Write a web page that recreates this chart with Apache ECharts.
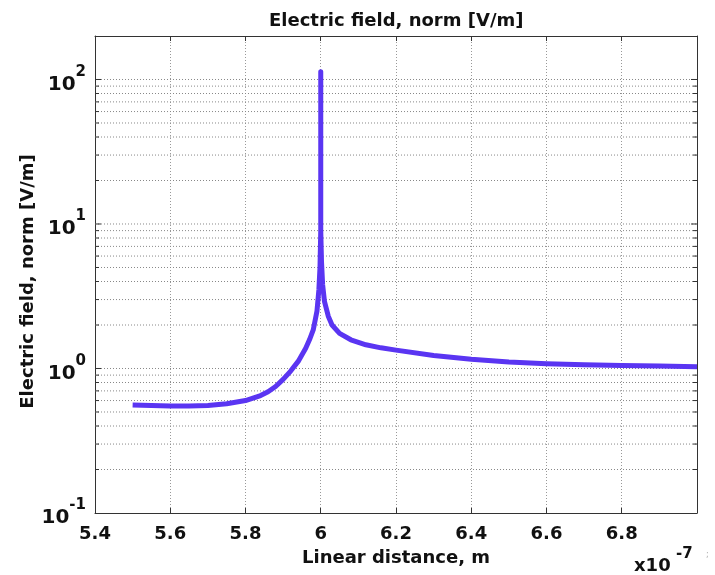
<!DOCTYPE html>
<html>
<head>
<meta charset="utf-8">
<script src="https://cdn.jsdelivr.net/npm/echarts@6/dist/echarts.min.js"></script>
<style>html,body{margin:0;padding:0;background:#fff;}#c{width:715px;height:575px;}</style>
</head>
<body>
<div id="c"></div>
<script>
// Linear distance in units of 1e-7 m
const distance = [5.50, 5.55, 5.60, 5.65, 5.70, 5.75, 5.80, 5.84, 5.86, 5.88, 5.90, 5.92, 5.94, 5.96, 5.97, 5.98, 5.99, 5.995, 5.998, 6.000, 6.000, 6.000, 6.002, 6.005, 6.01, 6.02, 6.03, 6.05, 6.08, 6.12, 6.16, 6.20, 6.30, 6.40, 6.50, 6.60, 6.70, 6.80, 6.90, 7.00];
const fieldNorm = [0.56, 0.555, 0.55, 0.55, 0.555, 0.57, 0.60, 0.65, 0.69, 0.75, 0.84, 0.96, 1.12, 1.38, 1.58, 1.85, 2.5, 3.5, 5.0, 9.0, 113, 9.0, 5.5, 3.8, 2.9, 2.3, 2.0, 1.75, 1.58, 1.46, 1.39, 1.34, 1.23, 1.16, 1.11, 1.08, 1.06, 1.05, 1.04, 1.03];
const xTicks = [5.4, 5.6, 5.8, 6.0, 6.2, 6.4, 6.6, 6.8, 7.0];
const yGridValues = [0.2,0.3,0.4,0.5,0.6,0.7,0.8,0.9,1,2,3,4,5,6,7,8,9,10,20,30,40,50,60,70,80,90,100];
const titleText = 'Electric field, norm [V/m]';
const xName = 'Linear distance, m';
const yName = 'Electric field, norm [V/m]';

const X_MIN = 5.4, X_MAX = 7.0;
const FONT = 'DejaVu Sans';

const chart = echarts.init(document.getElementById('c'));
chart.setOption({
  backgroundColor: '#fff',
  animation: false,
  title: {
    text: titleText,
    left: 264, top: 7,
    textStyle: {fontFamily: FONT, fontSize: 18, fontWeight: 'bold', color: '#111'}
  },
  grid: {left: 95, right: 18, top: 36, bottom: 62, containLabel: false},
  xAxis: [{
    type: 'value', min: X_MIN, max: X_MAX, interval: 0.2,
    name: xName, nameLocation: 'middle', nameGap: 36, nameMoveOverlap: false,
    nameTextStyle: {fontFamily: FONT, fontSize: 18, fontWeight: 'bold', color: '#111'},
    axisLine: {show: true, lineStyle: {color: '#333', width: 1}},
    axisTick: {show: true, inside: true, length: 5, lineStyle: {color: '#333'}},
    axisLabel: {
      margin: 12, fontFamily: FONT, fontSize: 18, fontWeight: 'bold', color: '#111',
      formatter: v => (Math.abs(v - X_MAX) < 1e-6 ? '' : String(Number(v.toFixed(1))))
    },
    splitLine: {show: true, lineStyle: {color: '#999', width: 1, type: [1, 2]}}
  }, {
    type: 'value', min: X_MIN, max: X_MAX, interval: 0.2, position: 'top',
    axisLine: {show: true, lineStyle: {color: '#333', width: 1}},
    axisTick: {show: true, inside: true, length: 5, lineStyle: {color: '#333'}},
    axisLabel: {show: false}, splitLine: {show: false}
  }],
  yAxis: [{
    type: 'log', logBase: 10, min: 0.1, max: 200,
    name: yName, nameLocation: 'middle', nameGap: 58, nameRotate: 90, nameMoveOverlap: false,
    nameTextStyle: {fontFamily: FONT, fontSize: 18, fontWeight: 'bold', color: '#111', padding: [0, 14, 0, 0]},
    axisLine: {show: true, lineStyle: {color: '#333', width: 1}},
    axisTick: {show: false},
    splitLine: {show: false},
    axisLabel: {
      margin: 9, color: '#111',
      formatter: v => {
        const l = Math.log10(v), e = Math.round(l);
        if (Math.abs(l - e) > 1e-6) return '';
        return '{b|10}{s|' + e + '}';
      },
      rich: {
        b: {fontFamily: FONT, fontSize: 20, fontWeight: 'bold', color: '#111', lineHeight: 30, verticalAlign: 'bottom'},
        s: {fontFamily: FONT, fontSize: 15, fontWeight: 'bold', color: '#111', lineHeight: 16, verticalAlign: 'top'}
      }
    }
  }, {
    type: 'log', logBase: 10, min: 0.1, max: 200, position: 'right',
    axisLine: {show: true, lineStyle: {color: '#333', width: 1}},
    axisTick: {show: false}, axisLabel: {show: false}, splitLine: {show: false}
  }],
  series: [{
    type: 'custom',
    xAxisIndex: 0, yAxisIndex: 0,
    silent: true, z: 1,
    encode: {x: 0, y: 1},
    data: yGridValues.map(v => [X_MIN, v]),
    renderItem: (params, api) => {
      const v = api.value(1);
      const p0 = api.coord([X_MIN, v]);
      const p1 = api.coord([X_MAX, v]);
      const major = Math.abs(Math.log10(v) - Math.round(Math.log10(v))) < 1e-6;
      const tl = major ? 6 : 4;
      return {
        type: 'group',
        children: [
          {type: 'line', shape: {x1: p0[0], y1: p0[1], x2: p1[0], y2: p1[1]},
           style: {stroke: '#888', lineWidth: 1, lineDash: [1, 2]}},
          {type: 'line', shape: {x1: p0[0], y1: p0[1], x2: p0[0] + tl, y2: p0[1]},
           style: {stroke: '#333', lineWidth: 1}},
          {type: 'line', shape: {x1: p1[0] - tl, y1: p1[1], x2: p1[0], y2: p1[1]},
           style: {stroke: '#333', lineWidth: 1}}
        ]
      };
    }
  }, {
    type: 'line',
    xAxisIndex: 0, yAxisIndex: 0,
    data: distance.map((x, i) => [x, fieldNorm[i]]),
    showSymbol: false, symbol: 'none', smooth: false, z: 5,
    lineStyle: {color: '#5a35f2', width: 5, join: 'round'}
  }],
  graphic: [
    {type: 'text', left: 634, top: 557, style: {text: 'x10', fontFamily: FONT, fontSize: 18, fontWeight: 'bold', fill: '#111'}},
    {type: 'text', left: 676, top: 547, style: {text: '-7', fontFamily: FONT, fontSize: 15, fontWeight: 'bold', fill: '#111'}},
    {type: 'text', left: 706, top: 551, style: {text: ';', fontFamily: FONT, fontSize: 8, fill: '#aaa'}}
  ]
});
</script>
</body>
</html>
